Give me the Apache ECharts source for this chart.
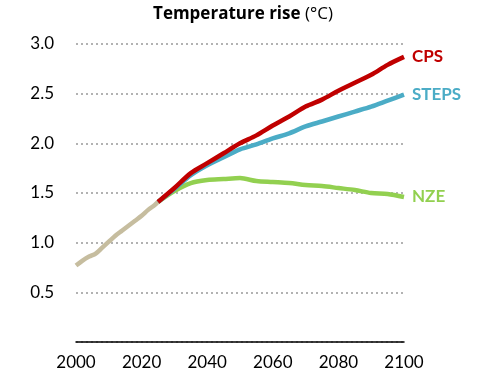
<!DOCTYPE html>
<html>
<head>
<meta charset="utf-8">
<script src="https://cdn.jsdelivr.net/npm/echarts@6/dist/echarts.min.js"></script>
<style>html,body{margin:0;padding:0;background:#fff}#c{width:487px;height:387px}</style>
</head>
<body>
<div id="c"></div>
<script>
var histYears = [2000, 2002, 2004, 2006, 2008, 2010, 2012, 2014, 2016, 2018, 2020, 2022, 2024, 2025];
var histValues = [0.77, 0.82, 0.86, 0.89, 0.95, 1.01, 1.07, 1.12, 1.17, 1.22, 1.27, 1.33, 1.38, 1.41];
var scenYears = [2025, 2030, 2035, 2040, 2045, 2050, 2055, 2060, 2065, 2070, 2075, 2080, 2085, 2090, 2095, 2100];
var cpsValues = [1.41, 1.55, 1.70, 1.80, 1.90, 2.00, 2.08, 2.18, 2.27, 2.37, 2.44, 2.53, 2.61, 2.69, 2.79, 2.87];
var stepsValues = [1.41, 1.54, 1.68, 1.78, 1.86, 1.94, 1.99, 2.05, 2.10, 2.17, 2.22, 2.27, 2.32, 2.37, 2.43, 2.49];
var nzeValues = [1.41, 1.52, 1.60, 1.63, 1.64, 1.65, 1.62, 1.61, 1.60, 1.58, 1.57, 1.55, 1.53, 1.50, 1.49, 1.46];
var xTicks = [2000, 2020, 2040, 2060, 2080, 2100];
var yTicks = [0.5, 1.0, 1.5, 2.0, 2.5, 3.0];

function pairs(xs, ys) { return xs.map(function (x, i) { return [x, ys[i]]; }); }
var FONT = 'Lato';
function scen(name, vals, color) {
  return {
    name: name, type: 'line', data: pairs(scenYears, vals), smooth: 0.3,
    symbol: 'none', lineStyle: { color: color, width: 4.5 }, z: 3,
    endLabel: { show: true, formatter: name, color: color, fontFamily: FONT,
      fontWeight: 'bold', fontSize: 17, distance: 8 }
  };
}
var chart = echarts.init(document.getElementById('c'));
chart.setOption({
  animation: false,
  title: {
    text: '{b|Temperature rise }{n|(°C)}', left: 238, textAlign: 'center', top: 1,
    textStyle: { fontFamily: 'Open Sans', fontSize: 17, color: '#000', rich: {
      b: { fontFamily: 'Open Sans', fontWeight: 'bold', fontSize: 17, color: '#000' },
      n: { fontFamily: 'Open Sans', fontWeight: 'normal', fontSize: 17, color: '#000' }
    } }
  },
  grid: { left: 76, right: 83, top: 44, bottom: 45, containLabel: false },
  xAxis: {
    type: 'value', min: 2000, max: 2100, interval: 20,
    axisLine: { show: true, lineStyle: { color: '#000', width: 1.5 } },
    axisTick: { show: false }, splitLine: { show: false },
    axisLabel: { fontFamily: FONT, fontSize: 17, color: '#000', margin: 12,
      formatter: function (v) { return xTicks.indexOf(v) >= 0 ? String(v) : ''; } }
  },
  yAxis: {
    type: 'value', min: 0, max: 3, interval: 0.5,
    axisLine: { show: false }, axisTick: { show: false },
    splitLine: { show: true, lineStyle: { color: '#999', type: [2, 3], width: 1.5 } },
    axisLabel: { fontFamily: FONT, fontSize: 17, color: '#000', margin: 22,
      formatter: function (v) { return yTicks.indexOf(v) >= 0 ? v.toFixed(1) : ''; } }
  },
  series: [
    { name: 'Historical', type: 'line', data: pairs(histYears, histValues), smooth: 0.3,
      symbol: 'none', lineStyle: { color: '#c6bd9f', width: 4.5 }, z: 2 },
    scen('NZE', nzeValues, '#92d050'),
    scen('STEPS', stepsValues, '#4bacc6'),
    scen('CPS', cpsValues, '#c00000')
  ]
});
</script>
</body>
</html>
